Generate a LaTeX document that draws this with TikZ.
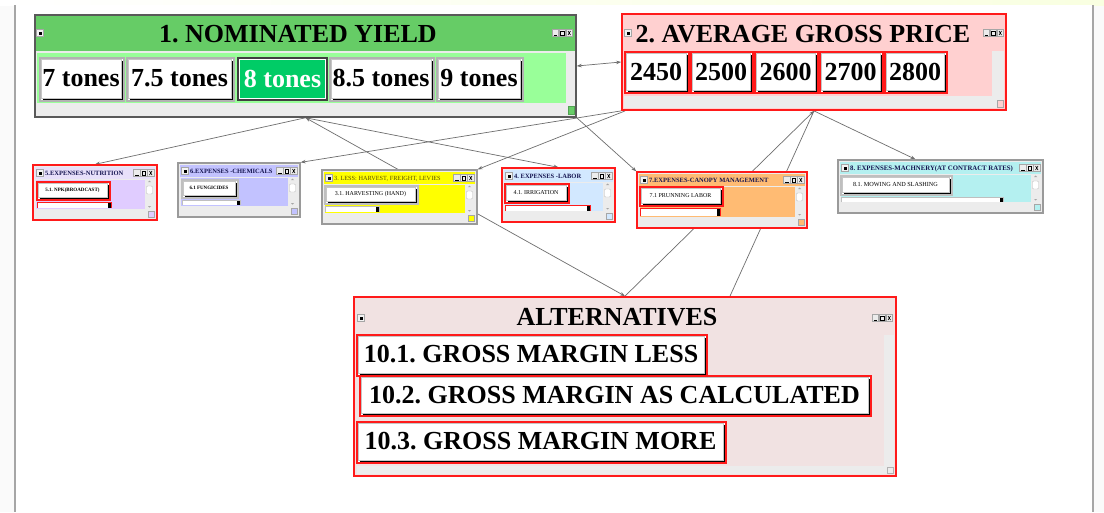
\documentclass[tikz,border=0pt]{standalone}
\usepackage{fontspec}
\setmainfont{Liberation Serif}
\usetikzlibrary{fit,calc,backgrounds,arrows.meta}
\frenchspacing

\definecolor{scroll}{HTML}{ECECEC}
\definecolor{frameg}{HTML}{9A9A9A}
\definecolor{redf}{HTML}{FF1A1A}
\definecolor{yieldbar}{HTML}{66CC66}
\definecolor{yieldbody}{HTML}{99FF99}
\definecolor{selgreen}{HTML}{00CC66}
\definecolor{pricebg}{HTML}{FFD0D0}
\definecolor{altbg}{HTML}{F1E2E2}
\definecolor{lilac}{HTML}{E0CCFF}
\definecolor{lilacbar}{HTML}{E8E0FA}
\definecolor{periw}{HTML}{C2C2FF}
\definecolor{yel}{HTML}{FFFF00}
\definecolor{skyb}{HTML}{D2E8FF}
\definecolor{orng}{HTML}{FFBB73}
\definecolor{cyanb}{HTML}{B4F0F0}
\definecolor{navy}{HTML}{141450}
\definecolor{olive}{HTML}{5A5000}
\definecolor{conn}{HTML}{6E6E6E}

\pgfdeclarelayer{page}
\pgfsetlayers{page,background,main}

% small "system menu" square of a window
\newcommand\sysicon[2]{%
  \draw[gray!70, fill=gray!10, line width=0.4pt] (#1-3.5,#2-3.5) rectangle (#1+3.5,#2+3.5);
  \fill[black] (#1-1.5,#2-1.5) rectangle (#1+1.5,#2+1.5);}

% minimise / maximise / close boxes, right edge #1, centre height #2
\newcommand\ctrls[2]{%
  \foreach \k in {0,1,2}{%
    \draw[gray!70, fill=gray!15, line width=0.4pt] (#1-7*\k-7,#2-3.5) rectangle (#1-7*\k-0.5,#2+3.5);}
  \draw[line width=0.6pt] (#1-5,#2-2) -- (#1-2.5,#2+2) (#1-5,#2+2) -- (#1-2.5,#2-2);
  \draw[line width=0.5pt] (#1-12.5,#2-2) rectangle (#1-9,#2+2);
  \draw[line width=0.8pt] (#1-19.5,#2+2) -- (#1-16,#2+2);}

% push button: name, x1, y1, x2, y2, frame colour, font, text
\newcommand\btn[8]{%
  \fill[white] (#2,#3) rectangle (#4,#5);
  \fill[black] (#2+3,#3+3) rectangle (#4-1,#5-1);
  \node[fit={(#2+1,#3+1) (#4-3,#5-3)}, inner sep=0, fill=white, draw=gray!45, line width=0.4pt] (#1) {};
  \node[font=#7, inner sep=0] (#1-t) at (#1.center) {#8};
  \draw[#6, line width=1.2pt] (#2,#3) rectangle (#4,#5);}

% half-hidden list entry below the first one
\newcommand\slider[5]{%
  \fill[white] (#1,#2) rectangle (#3,#4);
  \draw[#5, line width=0.9pt] (#1,#4) -- (#1,#2) -- (#3,#2) -- (#3,#4);
  \fill[black] (#3-3,#2+0.5) rectangle (#3,#4);}

% small expense window: name, x1, y1, x2, y2, frame, bar colour, body colour, title
\newcommand\smallwin[9]{%
  \node[fit={(#2,#3) (#4,#5)}, inner sep=0, fill=scroll, draw=#6, line width=1.3pt] (#1) {};
  \fill[#7] (#2+2,#3+2) rectangle (#4-2,#3+14);
  \fill[#8] (#2+3,#3+15) rectangle (#4-12,#5-11);
  \fill[scroll] (#4-12,#3+15) rectangle (#4-3,#5-11);
  \draw[gray!50, fill=white, rounded corners=1pt, line width=0.4pt] (#4-10.5,#3+21) rectangle (#4-4.5,#3+29);
  \fill[gray!70] (#4-9,#3+17) -- (#4-6,#3+17) -- (#4-7.5,#3+15.5) -- cycle;
  \fill[gray!70] (#4-9,#5-14) -- (#4-6,#5-14) -- (#4-7.5,#5-12.5) -- cycle;
  \fill[scroll] (#2+3,#5-11) rectangle (#4-3,#5-3);
  \draw[gray!70, fill=#8, line width=0.4pt] (#4-9,#5-9) rectangle (#4-3,#5-3);
  \sysicon{#2+7}{#3+8}
  \ctrls{#4-2.5}{#3+8}
  \node[anchor=west, inner sep=0, font=\fontsize{6.5}{7}\selectfont\bfseries, text=navy] (#1-t) at (#2+12,#3+8.5) {#9};}

\begin{document}
\begin{tikzpicture}[x=1pt, y=-1pt,
  big/.style={font=\fontsize{26}{28}\selectfont\bfseries},
  link/.style={draw=conn, line width=0.7pt},
  tip/.tip={Stealth[length=5pt, width=3.5pt]}]

\useasboundingbox (0,0) rectangle (1104,512);

% page
\begin{pgfonlayer}{page}
\fill[black!2] (0,0) rectangle (1104,512);
\shade[left color=white, right color=green!20!yellow!12] (0,0) rectangle (1104,5);
\fill[white] (16,5) rectangle (1092,512);
\draw[gray!70, line width=1.2pt] (15,5) -- (15,512) (1093,5) -- (1093,512);
\end{pgfonlayer}

% ---------- 1. nominated yield ----------
\node[fit={(35,15) (576,117)}, inner sep=0, fill=scroll, draw=black!65, line width=1.5pt] (w1) {};
\fill[yieldbar] (36,16) rectangle (575,51);
\fill[yieldbody] (37,53) rectangle (566,103);
\fill[scroll] (566,53) rectangle (575,103);
\draw[yieldbar!80!black, fill=yieldbar, line width=0.4pt] (568,106) rectangle (574,114);
\sysicon{40}{33}
\ctrls{573}{33}
\node[big] (w1-t) at (298,34) {1. NOMINATED YIELD};
\btn{y7}{40}{58}{124}{101}{gray!60}{\fontsize{26}{28}\selectfont\bfseries}{7 tones}
\btn{y75}{127}{58}{234}{101}{gray!60}{\fontsize{26}{28}\selectfont\bfseries}{7.5 tones}
\fill[black!75] (237,57) rectangle (328,101);
\node[fit={(239.5,59.5) (325.5,98.5)}, inner sep=0, fill=selgreen, draw=white, line width=0.6pt] (y8) {};
\node[big, text=white, inner sep=0] (y8-t) at (y8.center) {8 tones};
\btn{y85}{330}{58}{434}{101}{gray!60}{\fontsize{26}{28}\selectfont\bfseries}{8.5 tones}
\btn{y9}{437}{58}{523}{101}{gray!60}{\fontsize{26}{28}\selectfont\bfseries}{9 tones}

% ---------- 2. average gross price ----------
\node[fit={(622,14) (1006,110)}, inner sep=0, fill=pricebg, draw=redf, line width=1.8pt] (w2) {};
\fill[scroll] (992,51) rectangle (1004,96);
\fill[scroll] (624,96) rectangle (1004,108);
\draw[gray!70, fill=pricebg, line width=0.4pt] (997,100) rectangle (1003,107);
\sysicon{628}{33}
\ctrls{1004}{33}
\node[big] (w2-t) at (803,34) {2. AVERAGE GROSS PRICE};
\btn{p1}{625}{52}{689}{93}{redf}{\fontsize{26}{28}\selectfont\bfseries}{2450}
\btn{p2}{691}{52}{753}{93}{redf}{\fontsize{26}{28}\selectfont\bfseries}{2500}
\btn{p3}{755}{52}{818}{93}{redf}{\fontsize{26}{28}\selectfont\bfseries}{2600}
\btn{p4}{820}{52}{883}{93}{redf}{\fontsize{26}{28}\selectfont\bfseries}{2700}
\btn{p5}{885}{52}{947}{93}{redf}{\fontsize{26}{28}\selectfont\bfseries}{2800}

% ---------- expense windows ----------
\smallwin{w5}{33}{165}{157}{220}{redf}{lilacbar}{lilac}{5.EXPENSES-NUTRITION}
\btn{n1}{37}{182}{110}{200}{redf}{\fontsize{5}{6}\selectfont\bfseries}{5.1. NPK(BROADCAST)}
\slider{37}{202}{111}{208}{redf}

\smallwin{w6}{178}{163}{300}{217}{frameg}{periw}{periw}{6.EXPENSES -CHEMICALS}
\btn{c1}{182}{180}{238}{198}{gray!50}{\fontsize{5}{6}\selectfont\bfseries}{6.1 FUNGICIDES}
\slider{182}{200}{240}{205}{gray!50}

\smallwin{w3}{322}{170}{477}{224}{frameg}{yel}{yel}{\fontsize{6.3}{7}\selectfont\mdseries\color{olive}3. LESS: HARVEST, FREIGHT, LEVIES}
\btn{h1}{325}{186}{418}{204}{gray!50}{\fontsize{6}{7}\selectfont}{3.1. HARVESTING (HAND)}
\slider{325}{206}{379}{212}{gray!50}

\smallwin{w4}{502}{168}{615}{222}{redf}{skyb}{skyb}{4. EXPENSES -LABOR}
\btn{l1}{505}{184}{569}{203}{redf}{\fontsize{6}{7}\selectfont}{4.1. IRRIGATION}
\slider{505}{205}{590}{211}{redf}

\smallwin{w7}{637}{172}{807}{228}{redf}{orng}{orng}{7.EXPENSES-CANOPY MANAGEMENT}
\btn{k1}{640}{187}{723}{206}{redf}{\fontsize{6}{7}\selectfont}{7.1 PRUNNING LABOR}
\slider{640}{208}{720}{216}{redf}

\smallwin{w8}{838}{160}{1043}{213}{frameg}{cyanb}{cyanb}{\fontsize{6.8}{7}\selectfont 8. EXPENSES-MACHNERY(AT CONTRACT RATES)}
\btn{m1}{841}{176}{952}{195}{gray!50}{\fontsize{6.2}{7}\selectfont}{8.1. MOWING AND SLASHING}
\slider{841}{197}{1003}{202}{gray!50}

% ---------- 10. alternatives ----------
\node[fit={(354,297) (896,476)}, inner sep=0, fill=altbg, draw=redf, line width=1.8pt] (alt) {};
\fill[scroll] (884,335) rectangle (894,466);
\fill[scroll] (357,466) rectangle (894,474);
\draw[gray!60, line width=0.4pt] (887,467) rectangle (893,473);
\sysicon{361}{318}
\ctrls{893}{318}
\node[big] (alt-t) at (617,317) {ALTERNATIVES};
\btn{a1}{357}{335}{707}{376}{redf}{\fontsize{26}{28}\selectfont\bfseries}{10.1. GROSS MARGIN LESS}
\btn{a2}{360}{376}{871}{416}{redf}{\fontsize{26}{28}\selectfont\bfseries}{10.2. GROSS MARGIN AS CALCULATED}
\btn{a3}{357}{422}{726}{463}{redf}{\fontsize{26}{28}\selectfont\bfseries}{10.3. GROSS MARGIN MORE}

% ---------- links ----------
\begin{pgfonlayer}{background}
  \draw[link, tip-tip] (w1.east) -- (w2.west);
  \draw[link, -tip] (w1.south) -- (w5.north);
  \draw[link, -tip] (w1.south) -- (w4.north);
  \draw[link, tip-tip] (w1.south) -- (alt.north);
  \draw[link, -tip] (w2.south west) -- (w6.north east);
  \draw[link, -tip] ($(w2.south west)+(4,0)$) -- (w3.north east);
  \draw[link, -tip] (w1.south east) -- (w7.north west);
  \draw[link, -tip] (w2.south) -- ($(w8.north)+(-25,0)$);
  \draw[link, tip-] (w2.south) -- (alt.north);
  \draw[link] (w2.south) -- ($(alt.north)+(105,0)$);
\end{pgfonlayer}
\end{tikzpicture}
\end{document}
